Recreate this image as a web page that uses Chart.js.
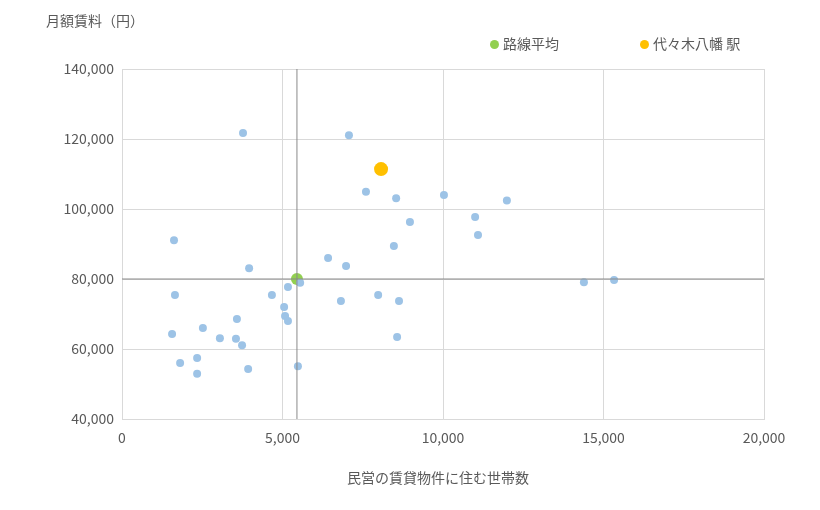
<!DOCTYPE html>
<html><head><meta charset="utf-8">
<script src="https://cdn.jsdelivr.net/npm/chart.js@4"></script>
<style>
body{margin:0;background:#fff;font-family:"Noto Sans CJK JP",sans-serif;color:#595959}
#wrap{position:relative;width:820px;height:510px}
.t{position:absolute;font-size:14px;white-space:nowrap}
.dot{display:inline-block;width:9px;height:9px;border-radius:50%;margin-right:4px;vertical-align:0}
</style></head>
<body><div id="wrap">
<canvas id="c" width="820" height="510"></canvas>
<div class="t" style="left:46px;top:10px">月額賃料（円）</div>
<div class="t" style="left:490px;top:33px"><span class="dot" style="background:#92d050"></span>路線平均</div>
<div class="t" style="left:640px;top:33px"><span class="dot" style="background:#ffc000"></span>代々木八幡 駅</div>
<div class="t" style="left:347px;top:467px">民営の賃貸物件に住む世帯数</div>
</div>
<script>
const households = [3770,7070,7600,8540,10030,11990,8970,11000,11090,1620,8470,6420,6980,3960,5550,14390,15330,1650,5170,4670,7980,6820,8630,5050,5080,5170,3580,2520,1560,3050,3550,3740,8570,1810,2340,2340,3930,5480];
const rents = [121700,121100,104900,103100,104000,102400,96300,97700,92600,91100,89400,86000,83700,83100,78900,79100,79700,75400,77700,75400,75400,73700,73700,72000,69400,68000,68600,66000,64300,63100,62900,61100,63400,56000,57400,52900,54300,55100];
const avgPoint = {x: 5450, y: 80000};
const stationPoint = {x: 8070, y: 111400};
const xTicks = [0, 20000];
const yTicks = [40000, 140000];

const pts = households.map((h, i) => ({x: h, y: rents[i]}));
const font = {family: '"Noto Sans CJK JP", sans-serif', size: 14};
new Chart(document.getElementById('c'), {
  type: 'scatter',
  data: {datasets: [
    {data: [{x: avgPoint.x, y: yTicks[0]}, {x: avgPoint.x, y: yTicks[1]}], showLine: true, borderColor: '#898989', borderWidth: 1, pointRadius: 0},
    {data: [{x: xTicks[0], y: avgPoint.y}, {x: xTicks[1], y: avgPoint.y}], showLine: true, borderColor: '#898989', borderWidth: 1, pointRadius: 0},
    {data: pts, backgroundColor: '#9dc3e6', borderWidth: 0, pointRadius: 4},
    {data: [avgPoint], backgroundColor: '#92d050', borderWidth: 0, pointRadius: 6},
    {data: [stationPoint], backgroundColor: '#ffc000', borderWidth: 0, pointRadius: 7}
  ]},
  options: {
    responsive: false, animation: false,
    layout: {padding: {top: 69, right: 56, left: 0, bottom: 0}},
    plugins: {legend: {display: false}, tooltip: {enabled: false}},
    scales: {
      x: {min: xTicks[0], max: xTicks[1], ticks: {stepSize: 5000, color: '#595959', font: font, padding: 10},
          grid: {color: '#d9d9d9', drawTicks: false}, border: {color: '#d9d9d9'},
          afterFit: s => { s.height = 91; }},
      y: {min: yTicks[0], max: yTicks[1], ticks: {stepSize: 20000, color: '#595959', font: font, padding: 8},
          grid: {color: '#d9d9d9', drawTicks: false}, border: {color: '#d9d9d9'},
          afterFit: s => { s.width = 122; }}
    }
  }
});
</script></body></html>
